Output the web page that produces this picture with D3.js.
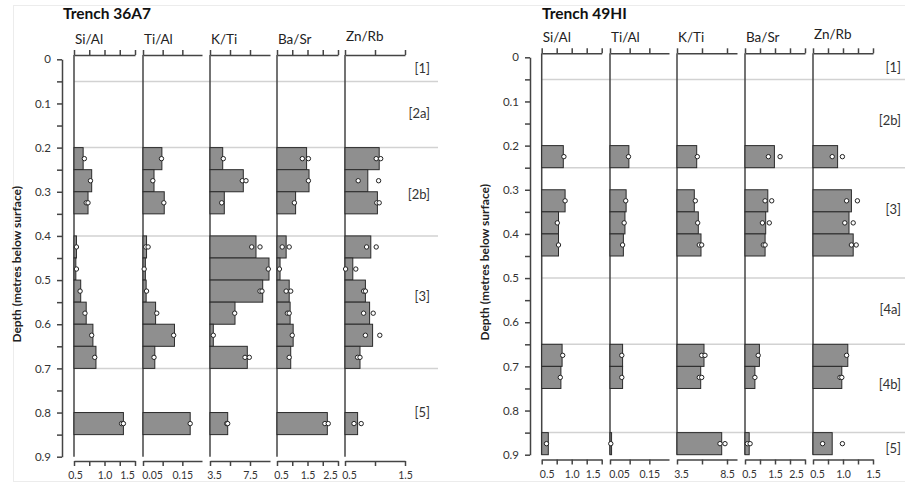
<!DOCTYPE html>
<html>
<head>
<meta charset="utf-8">
<script src="https://cdn.jsdelivr.net/npm/d3@7"></script>
<style>
  body { margin: 0; background: #fff; }
  svg { font-family: Lato, "Open Sans", sans-serif; }
</style>
</head>
<body>
<svg width="905" height="486"></svg>
<script>
// proxies and their value ranges (same for both trenches)
var proxies = ["Si/Al", "Ti/Al", "K/Ti", "Ba/Sr", "Zn/Rb"];
var domains = [[0.5, 1.5], [0.05, 0.2], [3.5, 9.5], [0.5, 2.5], [0.5, 1.5]];

// tick values and labels, trench 36A7
var ticksA = [[0.5, 0.75, 1, 1.25, 1.5], [0.05, 0.1, 0.15], [3.5, 5.5, 7.5], [0.5, 1, 1.5, 2, 2.5], [0.5, 1, 1.5]];
var tickLabelsA = [["0.5", "1.0", "1.5"], ["0.05", "0.15"], ["3.5", "7.5"], ["0.5", "1.5", "2.5"], ["0.5", "1.5"]];
// tick values and labels, trench 49HI
var ticksB = [[0.5, 0.75, 1, 1.25, 1.5], [0.05, 0.1, 0.15], [3.5, 6, 8.5], [0.5, 1, 1.5, 2, 2.5], [0.5, 0.75, 1, 1.25, 1.5]];
var tickLabelsB = [["0.5", "1.0", "1.5"], ["0.05", "0.15"], ["3.5", "8.5"], ["0.5", "1.5", "2.5"], ["0.5", "1.0", "1.5"]];

// trench 36A7 : sample tops (m), bar = mean, p1/p2 = replicates
var topsA = [0.20, 0.25, 0.30, 0.40, 0.45, 0.50, 0.55, 0.60, 0.65, 0.80];
var barsA = [
  [0.65, 0.79, 0.73, 0.54, 0.53, 0.61, 0.70, 0.81, 0.86, 1.31],
  [0.098, 0.078, 0.104, 0.059, 0.056, 0.058, 0.082, 0.130, 0.080, 0.170],
  [4.77, 6.83, 4.93, 8.1, 9.4, 8.77, 6.0, 3.83, 7.23, 5.27],
  [1.47, 1.55, 1.11, 0.80, 0.60, 0.90, 0.93, 1.03, 0.95, 2.15],
  [1.07, 0.88, 1.04, 0.93, 0.63, 0.84, 0.91, 0.96, 0.75, 0.71]
];
var p1A = [
  [0.67, 0.77, 0.70, 0.54, 0.54, 0.60, 0.68, 0.79, 0.84, 1.28],
  [0.097, 0.075, 0.103, 0.057, 0.053, 0.059, 0.085, 0.128, 0.078, 0.170],
  [4.83, 6.73, 4.67, 7.67, 9.33, 8.5, 5.97, 3.83, 7.0, 5.17],
  [1.33, 1.53, 1.07, 0.67, 0.58, 0.80, 0.84, 1.0, 0.9, 2.07],
  [1.02, 0.72, 1.03, 0.86, 0.51, 0.81, 0.81, 0.84, 0.71, 0.65]
];
var p2A = [
  [null, null, 0.73, null, null, null, null, null, null, 1.31],
  [null, null, null, 0.063, null, null, null, null, null, null],
  [null, 7.1, null, 8.5, null, 8.7, null, null, 7.43, 5.27],
  [1.53, null, null, 0.90, null, 0.95, 0.90, null, null, 2.18],
  [1.095, 1.06, 1.07, 1.02, 0.68, 0.84, 0.97, 1.08, 0.75, 0.77]
];
var layersA = ["[1]", "[2a]", "[2b]", "[3]", "[5]"];
var layerDepthA = [0.021, 0.122, 0.307, 0.538, 0.801];
var boundsA = [0.05, 0.2, 0.4, 0.7];

// trench 49HI
var topsB = [0.20, 0.30, 0.35, 0.40, 0.65, 0.70, 0.85];
var barsB = [
  [0.86, 0.89, 0.78, 0.78, 0.84, 0.82, 0.61],
  [0.098, 0.091, 0.088, 0.084, 0.082, 0.082, 0.054],
  [5.47, 5.23, 5.63, 5.9, 6.2, 5.87, 7.97],
  [1.48, 1.26, 1.19, 1.17, 0.98, 0.83, 0.64],
  [0.91, 1.14, 1.10, 1.17, 1.08, 0.98, 0.82]
];
var p1B = [
  [0.87, 0.89, 0.76, 0.78, 0.85, 0.81, 0.58],
  [0.097, 0.090, 0.086, 0.082, 0.080, 0.080, 0.052],
  [5.53, 5.33, 5.57, 5.73, 5.97, 5.73, 7.8],
  [1.28, 1.17, 1.08, 1.11, 0.94, 0.83, 0.58],
  [0.82, 1.06, 1.03, 1.14, 1.06, 0.95, 0.66]
];
var p2B = [
  [null, null, null, null, null, null, null],
  [null, null, null, null, null, null, null],
  [null, null, null, 5.97, 6.3, 5.97, 8.3],
  [1.67, 1.39, 1.31, 1.17, null, null, 0.67],
  [0.99, 1.24, 1.17, 1.22, null, 0.98, 0.99]
];
var layersB = ["[1]", "[2b]", "[3]", "[4a]", "[4b]", "[5]"];
var layerDepthB = [0.024, 0.142, 0.345, 0.572, 0.741, 0.886];
var boundsB = [0.05, 0.25, 0.5, 0.65, 0.85];

var svg = d3.select("svg");

// faint frame of the figure
svg.append("rect")
    .attr("x", 13.5).attr("y", 5.5)
    .attr("width", 900).attr("height", 476)
    .style("fill", "none")
    .style("stroke", "#ececec");

function drawTrench(o) {
    var g = svg.append("g");
    var y = d3.scaleLinear().domain([0, 0.9]).range([o.y0, o.y0 + 397.4]);
    var step = 0.05;

    // title
    g.append("text")
        .attr("x", o.titleX).attr("y", 19)
        .style("font-size", "15.5px").style("font-weight", "bold").style("fill", "#111")
        .text(o.title);

    // depth axis
    var yAxis = d3.axisLeft(y)
        .tickValues(d3.range(0, 0.901, 0.05))
        .tickSize(5).tickSizeOuter(0).tickPadding(6)
        .tickFormat(function (d) {
            return Math.round(d * 20) % 2 === 0 ? String(+d.toFixed(1)) : "";
        });
    var ya = g.append("g").attr("transform", "translate(" + o.axisX + ",0)").call(yAxis);
    ya.select(".domain").style("stroke", "#444").style("stroke-width", 1.5);
    ya.selectAll(".tick line").style("stroke", "#444").style("stroke-width", 1.5);
    ya.selectAll("text").style("font-size", "11.5px").style("fill", "#333").style("font-family", "Lato, sans-serif");

    g.append("text")
        .attr("transform", "translate(" + o.titleYX + "," + (o.y0 + 205) + ") rotate(-90)")
        .attr("text-anchor", "middle")
        .style("font-size", "12px").style("font-weight", "bold").style("fill", "#222")
        .text("Depth (metres below surface)");

    var x0 = o.colX[0];
    // layer boundaries
    g.selectAll(".bound").data(o.bounds).enter().append("line")
        .attr("x1", x0).attr("x2", o.lineEnd)
        .attr("y1", function (d) { return y(d); })
        .attr("y2", function (d) { return y(d); })
        .style("stroke", "#d2d2d2").style("stroke-width", 1.5);

    g.selectAll(".layer").data(o.layers).enter().append("text")
        .attr("x", o.layerX)
        .attr("y", function (d, i) { return y(o.layerDepth[i]) + 4.5; })
        .attr("text-anchor", "end")
        .style("font-size", "13px").style("fill", "#333")
        .text(function (d) { return d; });

    proxies.forEach(function (p, k) {
        var x = d3.scaleLinear().domain(domains[k]).range([o.colX[k], o.colX[k] + o.colW[k]]);
        var col = g.append("g");

        col.append("text")
            .attr("x", o.colX[k] + 1)
            .attr("y", o.topY - 11 - (k === 4 ? 3 : 0))
            .style("font-size", "13.5px").style("fill", "#222")
            .text(p);

        // top axis
        var top = col.append("g").attr("transform", "translate(0," + o.topY + ")")
            .call(d3.axisTop(x).tickValues(o.ticks[k]).tickSize(5).tickSizeOuter(0).tickFormat(""));

        // bottom axis
        var labs = o.tickLabels[k];
        var bot = col.append("g").attr("transform", "translate(0," + o.botY + ")")
            .call(d3.axisBottom(x).tickValues(o.ticks[k]).tickSize(5).tickSizeOuter(0).tickPadding(6)
                .tickFormat(function (d) {
                    var f = labs.filter(function (l) { return +l === d; });
                    return f.length ? f[0] : "";
                }));
        bot.selectAll(".tick text")
            .attr("dx", function (d) {
                if (d === domains[k][0]) return k === 0 ? o.firstDx : (k === 1 ? 9 : 4);
                if (d === domains[k][1] && k !== 4) return o.lastDx;
                return 0;
            });
        [top, bot].forEach(function (a) {
            a.select(".domain").style("stroke", "#444").style("stroke-width", 1.5);
            a.selectAll("line").style("stroke", "#444").style("stroke-width", 1.5);
            a.selectAll("text").style("font-size", "10.5px").style("fill", "#333")
                .style("font-family", "Lato, sans-serif").attr("y", 11);
        });

        // column baseline
        col.append("line")
            .attr("x1", x(domains[k][0])).attr("x2", x(domains[k][0]))
            .attr("y1", o.topY).attr("y2", y(0.9))
            .style("stroke", "#444").style("stroke-width", 1.5);

        // bars
        col.selectAll(".bar").data(o.bars[k]).enter().append("rect")
            .attr("x", x(domains[k][0]))
            .attr("y", function (d, i) { return y(o.tops[i]); })
            .attr("width", function (d) { return x(d) - x(domains[k][0]); })
            .attr("height", y(step) - y(0))
            .style("fill", "#8f8f8f")
            .style("stroke", "#2a2a2a")
            .style("stroke-width", 1);

        // replicate points
        [o.p1[k], o.p2[k]].forEach(function (pts) {
            col.selectAll(null).data(pts.map(function (v, i) { return { v: v, i: i }; })
                .filter(function (d) { return d.v !== null; }))
                .enter().append("circle")
                .attr("cx", function (d) { return x(d.v); })
                .attr("cy", function (d) { return y(o.tops[d.i] + step / 2); })
                .attr("r", 2.2)
                .style("fill", "#fff")
                .style("stroke", "#222")
                .style("stroke-width", 1);
        });
    });
}

drawTrench({
    title: "Trench 36A7", titleX: 63, titleYX: 21,
    y0: 59.3, axisX: 62, topY: 55, botY: 461,
    colX: [74, 143, 210, 277, 345], colW: [61, 59, 60, 61, 60],
    lineEnd: 438, layerX: 430,
    ticks: ticksA, tickLabels: tickLabelsA,
    tops: topsA, bars: barsA, p1: p1A, p2: p2A,
    bounds: boundsA, layers: layersA, layerDepth: layerDepthA, firstDx: 1, lastDx: -8
});

drawTrench({
    title: "Trench 49HI", titleX: 542, titleYX: 489,
    y0: 57.3, axisX: 530, topY: 53.3, botY: 459.5,
    colX: [541.7, 610, 677, 745, 813], colW: [60, 59, 60, 60, 60],
    lineEnd: 905, layerX: 901,
    ticks: ticksB, tickLabels: tickLabelsB,
    tops: topsB, bars: barsB, p1: p1B, p2: p2B,
    bounds: boundsB, layers: layersB, layerDepth: layerDepthB, firstDx: 5, lastDx: -9
});
</script>
</body>
</html>
